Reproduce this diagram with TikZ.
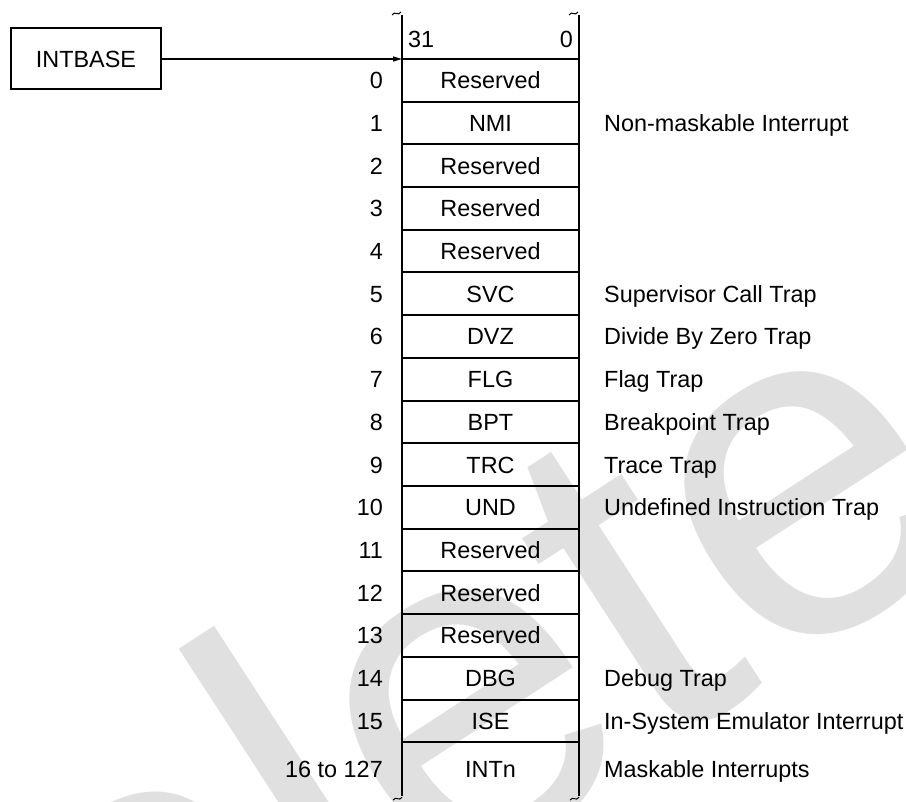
\documentclass[tikz,border=0pt]{standalone}
\usepackage{fontspec}
\setmainfont{Liberation Sans}
\usepackage{tikz}
\usetikzlibrary{arrows.meta, positioning, calc}

\begin{document}
\begin{tikzpicture}[
    x=1pt, y=1pt,
    node distance=0pt,
    font=\fontsize{23.4}{28}\selectfont,
    cell/.style={draw, line width=2pt, minimum width=177pt, minimum height=42.7pt, inner sep=0pt, outer sep=0pt, text height=16.75pt, text depth=0pt},
    opencell/.style={cell, draw=none},
    regbox/.style={draw, line width=2pt, minimum width=150pt, minimum height=61pt, outer sep=0pt},
    bitlbl/.style={inner sep=0pt, text height=16.75pt, text depth=0pt},
    idx/.style 2 args={label={[name=#1, inner sep=0pt, text height=16.75pt, text depth=0pt, label distance=19pt]left:#2}},
    desc/.style 2 args={label={[name=#1, inner sep=0pt, text height=16.75pt, text depth=0pt, label distance=25pt]right:#2}},
    rule/.style={line width=2pt},
    brk/.style={line width=1pt},
    arr/.style={-{Triangle[length=9pt,width=5pt]}, line width=1.5pt},
]
\useasboundingbox (0,0) rectangle (906,-802);

% watermark
\node[rotate=33, anchor=base east, text=black!12, inner sep=0pt, font=\fontsize{480}{480}\selectfont] (wmark) at (991,-537) {Obsolete};

\node[regbox] (intbase) at (86,-59) {INTBASE};

\node[cell, idx={n0}{0}] (r0) at (490.5,-80.35) {Reserved};
\node[cell, below=of r0, idx={n1}{1}, desc={d1}{Non-maskable Interrupt}] (r1) {NMI};
\node[cell, below=of r1, idx={n2}{2}] (r2) {Reserved};
\node[cell, below=of r2, idx={n3}{3}] (r3) {Reserved};
\node[cell, below=of r3, idx={n4}{4}] (r4) {Reserved};
\node[cell, below=of r4, idx={n5}{5}, desc={d5}{Supervisor Call Trap}] (r5) {SVC};
\node[cell, below=of r5, idx={n6}{6}, desc={d6}{Divide By Zero Trap}] (r6) {DVZ};
\node[cell, below=of r6, idx={n7}{7}, desc={d7}{Flag Trap}] (r7) {FLG};
\node[cell, below=of r7, idx={n8}{8}, desc={d8}{Breakpoint Trap}] (r8) {BPT};
\node[cell, below=of r8, idx={n9}{9}, desc={d9}{Trace Trap}] (r9) {TRC};
\node[cell, below=of r9, idx={n10}{10}, desc={d10}{Undefined Instruction Trap}] (r10) {UND};
\node[cell, below=of r10, idx={n11}{11}] (r11) {Reserved};
\node[cell, below=of r11, idx={n12}{12}] (r12) {Reserved};
\node[cell, below=of r12, idx={n13}{13}] (r13) {Reserved};
\node[cell, below=of r13, idx={n14}{14}, desc={d14}{Debug Trap}] (r14) {DBG};
\node[cell, below=of r14, idx={n15}{15}, desc={d15}{In-System Emulator Interrupt}] (r15) {ISE};
\node[opencell, minimum height=54pt, below=of r15, idx={n16}{16 to 127}, desc={d16}{Maskable Interrupts}] (intn) {INTn};

% bit numbers above the table
\node[opencell, minimum height=44pt, above=of r0] (hdr) {};
\node[bitlbl, anchor=west] (msb) at ([xshift=6pt, yshift=19.5pt]r0.north west) {31};
\node[bitlbl, anchor=east] (lsb) at ([xshift=-6pt, yshift=19.5pt]r0.north east) {0};

\draw[rule] (hdr.north west) -- (intn.south west);
\draw[rule] (hdr.north east) -- (intn.south east);

% break marks
\draw[brk] ($(hdr.north west)+(-10,0)$) .. controls +(3,5) and +(-3,-5) .. ($(hdr.north west)+(-1,3)$);
\draw[brk] ($(hdr.north east)+(-10,0)$) .. controls +(3,5) and +(-3,-5) .. ($(hdr.north east)+(-1,3)$);
\draw[brk] ($(intn.south west)+(-9,-4)$) .. controls +(3,5) and +(-3,-5) .. ($(intn.south west)+(0,-1)$);
\draw[brk] ($(intn.south east)+(-9,-4)$) .. controls +(3,5) and +(-3,-5) .. ($(intn.south east)+(0,-1)$);

\draw[arr] (intbase) -- (r0.north west);
\end{tikzpicture}
\end{document}
